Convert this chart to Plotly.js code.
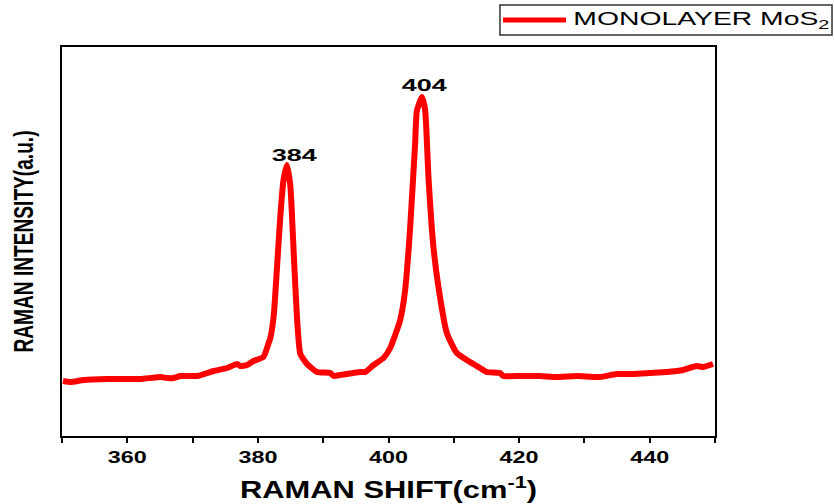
<!DOCTYPE html>
<html>
<head>
<meta charset="utf-8">
<script src="https://cdn.plot.ly/plotly-3.0.1.min.js"></script>
<style>html,body{margin:0;padding:0;background:#fff;}#chart{width:834px;height:504px;}</style>
</head>
<body>
<div id="chart"></div>
<script>
// Raman shift (cm^-1)
const ramanShift = [350.15,351.33,353.32,356.94,360.0,362.03,365.09,366.12,367.08,368.15,370.70,372.23,373.20,375.29,376.82,377.32,378.35,379.31,380.84,381.65,381.91,382.42,382.94,383.44,383.9,384.46,384.97,385.47,385.99,386.5,387.52,389.05,391.09,391.59,392.61,394.6,395.67,396.44,397.71,399.24,400.26,401.79,402.55,403.32,404.08,404.34,405.11,405.61,406.12,406.88,407.65,408.93,410.46,412.49,414.02,415.04,417.08,417.58,420.14,423.20,425.75,428.81,432.37,434.92,437.46,440.01,442.57,445.11,447.16,448.17,449.7];
// Raman intensity (a.u.)
const intensity = [55,54,56,57,57,57,59,58,58,60,60,63,65,68,72,70,71,75,79,93,98,120,170,220,255,271,250,185,118,82,72,64,63,60,61,63,64,64,71,78,88,116,146,209,293,325,339,326,259,189,149,103,83,74,68,64,63,60,60,60,59,60,59,62,62,63,64,66,70,69,72];
const seriesName = 'MONOLAYER MoS<sub>2</sub>';
const peakPositions = [385.6, 405.5];
const peakHeights = [269, 339];
const peakLabels = ['384', '404'];
const xTickVals = [360, 380, 400, 420, 440];
const xTickText = ['360', '380', '400', '420', '440'];

const FONT = 'Liberation Sans, Arial, sans-serif';

const trace = {
  x: ramanShift, y: intensity, type: 'scatter', mode: 'lines',
  name: seriesName, showlegend: false,
  line: {color: '#ff0000', width: 6, shape: 'spline', smoothing: 0.5}
};

const annotations = peakPositions.map((p, i) => ({
  x: p, y: peakHeights[i], xref: 'x', yref: 'y', text: peakLabels[i],
  showarrow: false, yanchor: 'bottom', xanchor: 'center',
  font: {family: FONT, size: 17, color: '#000', weight: 'bold'}
}));
annotations.push({
  x: 0.980, y: 1.0694, xref: 'paper', yref: 'paper', text: seriesName,
  showarrow: false, xanchor: 'center', yanchor: 'middle',
  font: {family: FONT, size: 18, color: '#000'}
});

const layout = {
  width: 834, height: 504,
  margin: {l: 62, r: 119, t: 47, b: 68},
  paper_bgcolor: '#fff', plot_bgcolor: '#fff',
  showlegend: false,
  xaxis: {
    range: [350, 450], showgrid: false, zeroline: false,
    showline: true, linecolor: '#000', linewidth: 2, mirror: true,
    ticks: 'outside', ticklen: 5, tickwidth: 2, tickcolor: '#000',
    tickmode: 'array', tickvals: xTickVals, ticktext: xTickText,
    minor: {dtick: 10, tick0: 350, ticks: 'outside', ticklen: 5, tickwidth: 2, tickcolor: '#000', showgrid: false},
    tickfont: {family: FONT, size: 17, color: '#000', weight: 'bold'},
    title: {text: 'RAMAN SHIFT(cm<sup>-1</sup>)', standoff: 15,
      font: {family: FONT, size: 23, color: '#000', weight: 'bold'}}
  },
  yaxis: {
    range: [0, 389], showgrid: false, zeroline: false,
    showline: true, linecolor: '#000', linewidth: 2, mirror: true,
    ticks: '', showticklabels: false,
    title: {text: 'RAMAN INTENSITY(a.u.)', standoff: 18,
      font: {family: FONT, size: 28, color: '#000', weight: 'bold'}}
  },
  shapes: [
    {type: 'rect', xref: 'paper', yref: 'paper', x0: 0.6707, x1: 1.1792, y0: 1.0308, y1: 1.108,
     line: {color: '#333', width: 1.5}, fillcolor: 'rgba(0,0,0,0)'},
    {type: 'line', xref: 'paper', yref: 'paper', x0: 0.6753, x1: 0.7718, y0: 1.0694, y1: 1.0694,
     line: {color: '#ff0000', width: 5}}
  ],
  annotations: annotations
};

function fit(el, len) {
  if (!el) return;
  el.setAttribute('textLength', len);
  el.setAttribute('lengthAdjust', 'spacingAndGlyphs');
}

Plotly.newPlot('chart', [trace], layout, {displayModeBar: false, staticPlot: true}).then(() => {
  document.querySelectorAll('.xtick text').forEach(t => fit(t, 39));
  fit(document.querySelector('.xtitle'), 297);
  fit(document.querySelector('.ytitle'), 222);
  const ann = document.querySelectorAll('.annotation-text');
  if (ann[0]) fit(ann[0], 45);
  if (ann[1]) fit(ann[1], 45);
  if (ann[2]) fit(ann[2], 256);
});
</script>
</body>
</html>
